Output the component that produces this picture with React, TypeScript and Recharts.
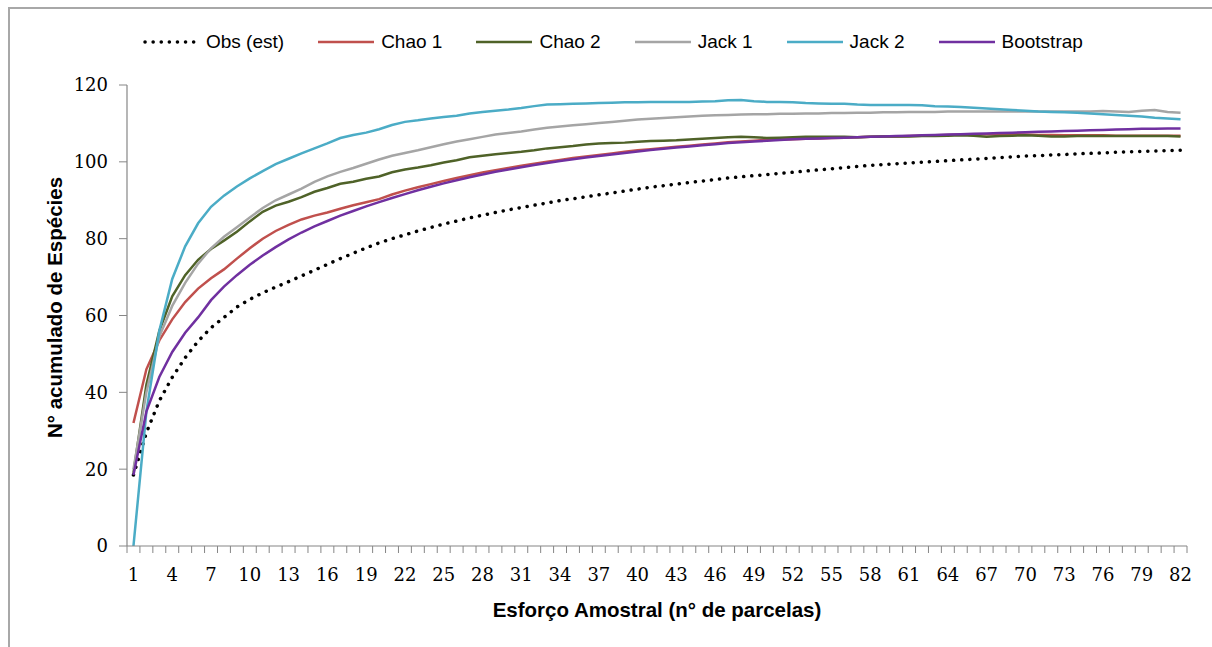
import { LineChart, Line, XAxis, YAxis } from 'recharts'

// sampling effort: plots 1..82
const PLOTS = Array.from({ length: 82 }, (_, i) => i + 1)
const LABEL_TICKS = [1, 4, 7, 10, 13, 16, 19, 22, 25, 28, 31, 34, 37, 40, 43, 46, 49, 52, 55, 58, 61, 64, 67, 70, 73, 76, 79, 82]
const Y_TICKS = [0, 20, 40, 60, 80, 100, 120]

const OBS = [
  18.5, 29.5, 37.8, 43.9, 49, 53.3, 56.8, 59.5, 62.2, 64.2,
  65.9, 67.4, 68.8, 70.3, 71.8, 73.3, 74.8, 76.2, 77.6, 78.9,
  80, 81, 82, 82.9, 83.8, 84.6, 85.4, 86.1, 86.8, 87.5,
  88.1, 88.7, 89.3, 89.9, 90.4, 90.9, 91.4, 91.9, 92.4, 92.9,
  93.4, 93.8, 94.2, 94.6, 95, 95.4, 95.8, 96.1, 96.4, 96.7,
  97, 97.3, 97.6, 97.9, 98.2, 98.5, 98.8, 99.1, 99.3, 99.5,
  99.7, 99.9, 100.1, 100.3, 100.5, 100.7, 100.9, 101.1, 101.3, 101.5,
  101.6, 101.8, 101.9, 102.1, 102.2, 102.3, 102.5, 102.6, 102.7, 102.8,
  102.9, 103,
]

const CHAO1 = [
  32, 46, 53.5, 59, 63.5, 67, 69.7, 72, 74.8, 77.5,
  80, 82, 83.6, 85, 86, 86.8, 87.8, 88.7, 89.5, 90.3,
  91.5, 92.5, 93.4, 94.2, 95, 95.8, 96.5, 97.2, 97.8, 98.4,
  99, 99.5, 100, 100.5, 101, 101.4, 101.8, 102.2, 102.6, 103,
  103.3, 103.6, 103.9, 104.2, 104.5, 104.8, 105.1, 105.3, 105.5, 105.7,
  105.8, 105.9, 106, 106.1, 106.2, 106.3, 106.4, 106.5, 106.6, 106.6,
  106.7, 106.8, 106.9, 107, 107.1, 107.2, 107.2, 107.2, 107.2, 107.1,
  107, 107, 106.9, 106.9, 106.9, 106.9, 106.8, 106.8, 106.8, 106.8,
  106.8, 106.8,
]

const CHAO2 = [
  19, 42, 56, 65, 70.5, 74.5, 77.3, 79.5, 81.8, 84.5,
  87, 88.6, 89.6, 90.8, 92.2, 93.2, 94.3, 94.8, 95.6, 96.2,
  97.3, 98, 98.5, 99.1, 99.8, 100.4, 101.2, 101.6, 102, 102.3,
  102.6, 103, 103.5, 103.8, 104.1, 104.5, 104.8, 104.9, 105, 105.2,
  105.4, 105.5, 105.6, 105.8, 106, 106.2, 106.4, 106.5, 106.4, 106.2,
  106.3, 106.4, 106.5, 106.5, 106.5, 106.5, 106.4, 106.5, 106.6, 106.6,
  106.6, 106.7, 106.7, 106.8, 106.9, 106.8, 106.5, 106.7, 106.8, 106.9,
  106.8, 106.6, 106.6, 106.7, 106.7, 106.7, 106.7, 106.7, 106.7, 106.7,
  106.7, 106.6,
]

const JACK1 = [
  20, 40, 54.5, 62.5, 68.5, 73.5, 77.5, 80.5, 83, 85.5,
  88, 90, 91.5, 93, 94.8, 96.2, 97.4, 98.4, 99.5, 100.6,
  101.6, 102.3, 103, 103.8, 104.6, 105.3, 105.9, 106.5, 107.1, 107.5,
  107.9, 108.4, 108.9, 109.2, 109.5, 109.8, 110.1, 110.4, 110.7, 111,
  111.2, 111.4, 111.6, 111.8, 112, 112.1, 112.2, 112.3, 112.4, 112.4,
  112.5, 112.5, 112.6, 112.6, 112.7, 112.7, 112.8, 112.8, 112.9, 112.9,
  113, 113, 113, 113.1, 113.1, 113.1, 113.1, 113.1, 113.1, 113.1,
  113.1, 113.1, 113.1, 113.1, 113.1, 113.2, 113.1, 113, 113.3, 113.5,
  113, 112.8,
]

const JACK2 = [
  0, 35, 56, 69.5, 78, 84, 88.3, 91.2, 93.6, 95.7,
  97.6, 99.4, 100.8, 102.2, 103.5, 104.8, 106.2, 107, 107.6, 108.5,
  109.6, 110.4, 110.8, 111.3, 111.7, 112, 112.6, 113, 113.3, 113.6,
  114, 114.5, 114.9, 115, 115.1, 115.2, 115.3, 115.4, 115.5, 115.5,
  115.6, 115.6, 115.6, 115.6, 115.7, 115.8, 116, 116.1, 115.8, 115.6,
  115.6, 115.5, 115.3, 115.2, 115.1, 115.1, 114.9, 114.8, 114.8, 114.8,
  114.8, 114.7, 114.5, 114.4, 114.3, 114.1, 113.9, 113.7, 113.5, 113.3,
  113.1, 113, 112.9, 112.8, 112.6, 112.4, 112.2, 112, 111.8, 111.5,
  111.3, 111.1,
]

const BOOT = [
  18.5, 35, 44, 50.5, 55.5, 59.5, 64, 67.5, 70.5, 73.2,
  75.6, 77.8, 79.8, 81.6, 83.2, 84.6, 86, 87.2, 88.4, 89.5,
  90.6, 91.6, 92.6, 93.5, 94.4, 95.2, 96, 96.7, 97.4, 98,
  98.6, 99.2, 99.7, 100.2, 100.7, 101.1, 101.5, 101.9, 102.3, 102.7,
  103.1, 103.4, 103.7, 104, 104.3, 104.6, 104.9, 105.1, 105.3, 105.5,
  105.7, 105.9, 106, 106.1, 106.2, 106.3, 106.4, 106.5, 106.6, 106.7,
  106.8, 106.9, 107, 107.1, 107.2, 107.3, 107.4, 107.5, 107.6, 107.7,
  107.8, 107.9, 108, 108.1, 108.2, 108.3, 108.4, 108.5, 108.6, 108.6,
  108.7, 108.7,
]

const SERIES = [
  { key: 'obs', name: 'Obs (est)', color: '#000000', dotted: true },
  { key: 'chao1', name: 'Chao 1', color: '#C0504D' },
  { key: 'chao2', name: 'Chao 2', color: '#4F6228' },
  { key: 'jack1', name: 'Jack 1', color: '#A5A5A5' },
  { key: 'jack2', name: 'Jack 2', color: '#4BACC6' },
  { key: 'boot', name: 'Bootstrap', color: '#7030A0' },
]

const data = PLOTS.map((x, i) => ({
  x,
  obs: OBS[i],
  chao1: CHAO1[i],
  chao2: CHAO2[i],
  jack1: JACK1[i],
  jack2: JACK2[i],
  boot: BOOT[i],
}))

// ticks at category centres (labels) and at the half steps between them (tick marks)
const X_TICKS = [0.5, ...PLOTS.flatMap((p) => [p, p + 0.5])]

const AXIS_GRAY = '#868686'
const TICK_FONT = { fontFamily: 'DejaVu Serif', fontSize: 18, fill: '#000' }
const TITLE_FONT = 'Liberation Sans, Arial, sans-serif'

function PlotTick({ x, y, payload }: any) {
  const v = payload.value
  if (!Number.isInteger(v)) {
    return <line x1={x} y1={y} x2={x} y2={y + 7} stroke={AXIS_GRAY} strokeWidth={1} />
  }
  if (!LABEL_TICKS.includes(v)) return null
  return (
    <text x={x} y={y + 22} dy="0.71em" textAnchor="middle" {...TICK_FONT}>
      {v}
    </text>
  )
}

function LegendRow() {
  return (
    <div
      style={{
        position: 'absolute',
        left: 143,
        top: 31,
        display: 'flex',
        alignItems: 'center',
        fontFamily: TITLE_FONT,
        fontSize: 19,
        color: '#000',
        whiteSpace: 'nowrap',
      }}
    >
      {SERIES.map((s) => (
        <div key={s.key} style={{ display: 'flex', alignItems: 'center', marginRight: 34 }}>
          <svg width={56} height={10}>
            <line
              x1={s.dotted ? 2 : 0}
              y1={5}
              x2={56}
              y2={5}
              stroke={s.color}
              strokeWidth={s.dotted ? 3.5 : 2.5}
              strokeDasharray={s.dotted ? '0.1 8' : undefined}
              strokeLinecap={s.dotted ? 'round' : 'butt'}
            />
          </svg>
          <span style={{ marginLeft: 7 }}>{s.name}</span>
        </div>
      ))}
    </div>
  )
}

export default function App() {
  return (
    <div style={{ position: 'absolute', left: 0, top: 0, width: 1212, height: 647, overflow: 'hidden', background: '#fff' }}>
      {/* chart area border (only top/left edges are inside the frame) */}
      <div
        style={{
          position: 'absolute',
          left: 8,
          top: 7,
          width: 1300,
          height: 700,
          borderTop: '2px solid #a8a8a8',
          borderLeft: '2px solid #a8a8a8',
        }}
      />
      <LegendRow />
      <div style={{ position: 'absolute', left: 0, top: 0 }}>
        <LineChart width={1212} height={647} data={data} margin={{ top: 85, right: 25, bottom: 41, left: 0 }}>
          <XAxis
            dataKey="x"
            type="number"
            domain={[0.5, 82.5]}
            ticks={X_TICKS}
            interval={0}
            tick={<PlotTick />}
            tickSize={0}
            tickMargin={0}
            tickLine={false}
            height={60}
            axisLine={{ stroke: AXIS_GRAY, strokeWidth: 1.2 }}
            allowDataOverflow
            label={{
              content: ({ viewBox }: any) => (
                <text
                  x={viewBox.x + viewBox.width / 2}
                  y={609}
                  textAnchor="middle"
                  dominantBaseline="central"
                  fontFamily={TITLE_FONT}
                  fontWeight="bold"
                  fontSize={20.5}
                  fill="#000"
                >
                  Esforço Amostral (n° de parcelas)
                </text>
              ),
            }}
          />
          <YAxis
            type="number"
            domain={[0, 120]}
            ticks={Y_TICKS}
            interval={0}
            width={127}
            tick={TICK_FONT}
            tickSize={8}
            tickMargin={11}
            axisLine={{ stroke: AXIS_GRAY, strokeWidth: 1.2 }}
            tickLine={{ stroke: AXIS_GRAY }}
            label={{
              content: ({ viewBox }: any) => (
                <text
                  x={54}
                  y={viewBox.y + viewBox.height / 2 - 8}
                  transform={`rotate(-90 54 ${viewBox.y + viewBox.height / 2 - 8})`}
                  textAnchor="middle"
                  dominantBaseline="central"
                  fontFamily={TITLE_FONT}
                  fontWeight="bold"
                  fontSize={20.5}
                  fill="#000"
                >
                  N° acumulado de Espécies
                </text>
              ),
            }}
          />
          {SERIES.map((s) => (
            <Line
              key={s.key}
              type="linear"
              dataKey={s.key}
              name={s.name}
              stroke={s.color}
              strokeWidth={s.dotted ? 3.5 : 2.5}
              strokeDasharray={s.dotted ? '0.1 8' : undefined}
              strokeLinecap={s.dotted ? 'round' : 'butt'}
              dot={false}
              activeDot={false}
              isAnimationActive={false}
            />
          ))}
        </LineChart>
      </div>
    </div>
  )
}
